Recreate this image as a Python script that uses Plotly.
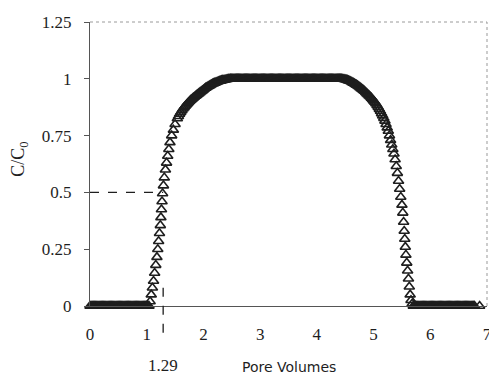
import numpy as np
import plotly.graph_objects as go

# ---- data ----
step = 0.02
# initial zero plateau 0 .. 1.04, full plateau 2.50 .. 4.44, final zeros 5.72 .. 6.78 (+ last point)
zero_head = (0.0, 1.04)
one_plateau = (2.50, 4.44)
zero_tail = (5.72, 6.78)
last_x, last_y = 6.87, 0.0

rise_x = [1.06, 1.08, 1.10, 1.12, 1.14, 1.16, 1.18, 1.195, 1.21, 1.225, 1.24, 1.25,
          1.26, 1.27, 1.28, 1.295, 1.31, 1.33, 1.35, 1.37, 1.39, 1.41, 1.44, 1.47,
          1.50, 1.54,
          1.56, 1.58, 1.60, 1.62, 1.64, 1.66, 1.68, 1.70, 1.72, 1.74, 1.76, 1.78,
          1.80, 1.82, 1.84, 1.86, 1.88, 1.90, 1.92, 1.94, 1.96, 1.98, 2.00, 2.02,
          2.04, 2.06, 2.08, 2.10, 2.12, 2.14, 2.16, 2.18, 2.20, 2.22, 2.24, 2.26,
          2.28, 2.30, 2.32, 2.34, 2.36, 2.38, 2.40, 2.42, 2.44, 2.46, 2.48]
rise_y = [0.02, 0.05, 0.08, 0.11, 0.145, 0.18, 0.215, 0.25, 0.285, 0.32, 0.355, 0.39,
          0.425, 0.46, 0.495, 0.53, 0.565, 0.60, 0.63, 0.66, 0.69, 0.72, 0.75, 0.775,
          0.80, 0.825,
          0.835, 0.845, 0.853, 0.861, 0.868, 0.874, 0.88, 0.886, 0.892, 0.897, 0.902, 0.907,
          0.911, 0.916, 0.92, 0.924, 0.928, 0.932, 0.936, 0.94, 0.944, 0.948, 0.952, 0.956,
          0.96, 0.963, 0.966, 0.969, 0.972, 0.975, 0.978, 0.98, 0.982, 0.984, 0.986, 0.988,
          0.99, 0.991, 0.993, 0.994, 0.995, 0.996, 0.997, 0.998, 0.999, 0.999, 1.0]

fall_x = [4.46, 4.48, 4.50, 4.52, 4.54, 4.56, 4.58, 4.60, 4.62, 4.64, 4.66, 4.68,
          4.70, 4.72, 4.74, 4.76, 4.78, 4.80, 4.82, 4.84, 4.86, 4.88, 4.90, 4.92,
          4.94, 4.96, 4.98, 5.00, 5.02, 5.04, 5.06, 5.08, 5.10, 5.12, 5.14, 5.16,
          5.18, 5.20,
          5.22, 5.24, 5.26, 5.28, 5.30, 5.32, 5.34, 5.36, 5.38, 5.40, 5.42, 5.44,
          5.46, 5.48, 5.50, 5.515, 5.53, 5.54, 5.55, 5.56, 5.57, 5.585, 5.60, 5.615,
          5.63, 5.645, 5.66, 5.68, 5.70]
fall_y = [0.999, 0.998, 0.997, 0.996, 0.994, 0.992, 0.99, 0.988, 0.985, 0.982, 0.979, 0.976,
          0.973, 0.97, 0.966, 0.962, 0.958, 0.954, 0.95, 0.946, 0.941, 0.936, 0.931, 0.926,
          0.921, 0.916, 0.91, 0.904, 0.898, 0.891, 0.884, 0.876, 0.867, 0.858, 0.848, 0.838,
          0.827, 0.815,
          0.80, 0.785, 0.77, 0.75, 0.73, 0.71, 0.69, 0.67, 0.645, 0.615, 0.585, 0.55,
          0.515, 0.48, 0.445, 0.41, 0.37, 0.33, 0.295, 0.26, 0.225, 0.19, 0.155, 0.12,
          0.085, 0.05, 0.025, 0.01, 0.0]

x_ticks = [0, 1, 2, 3, 4, 5, 6, 7]
y_ticks = [0, 0.25, 0.5, 0.75, 1, 1.25]
y_tick_labels = ["0", "0.25", "0.5", "0.75", "1", "1.25"]
pv_half = 1.29
c_half = 0.5


def flat(span, value):
    xx = np.round(np.arange(span[0], span[1] + 1e-9, step), 3)
    return list(xx), [value] * len(xx)


hx, hy = flat(zero_head, 0.0)
px_, py_ = flat(one_plateau, 1.0)
tx, ty = flat(zero_tail, 0.0)
xs = hx + rise_x + px_ + fall_x + tx + [last_x]
ys = hy + rise_y + py_ + fall_y + ty + [last_y]

serif = "Liberation Serif"
ink = "#1e1e1e"

fig = go.Figure()
fig.add_trace(go.Scatter(
    x=xs, y=ys, mode="markers",
    marker=dict(symbol="triangle-up-open", size=9, color=ink,
                line=dict(width=1.6, color=ink)),
    showlegend=False, cliponaxis=False))

# arrowhead under the axis
fig.add_trace(go.Scatter(
    x=[pv_half], y=[-0.135], mode="markers",
    marker=dict(symbol="triangle-down", size=7, color=ink),
    showlegend=False, cliponaxis=False))

yr = 1.25
shapes = [
    dict(type="line", xref="x", yref="y", x0=0, x1=pv_half, y0=c_half, y1=c_half,
         line=dict(color=ink, width=1.3, dash="dash")),
    dict(type="line", xref="x", yref="paper", x0=pv_half, x1=pv_half,
         y0=0.08 / yr, y1=-0.105, line=dict(color=ink, width=1.3, dash="dash")),
    dict(type="line", xref="paper", yref="paper", x0=0, x1=1, y0=1, y1=1,
         line=dict(color="#9a9a9a", width=1, dash="dot")),
    dict(type="line", xref="paper", yref="paper", x0=1, x1=1, y0=0, y1=1,
         line=dict(color="#999999", width=1, dash="dot")),
]

# sized so the page (with its 8px body margin) does not overflow the window
fig.update_layout(
    width=481, height=369,
    margin=dict(l=82, r=2, t=14, b=71),
    paper_bgcolor="white", plot_bgcolor="white",
    shapes=shapes,
    annotations=[
        dict(x=pv_half, y=-0.208, xref="x", yref="paper", text="1.29",
             xanchor="center", yanchor="middle",
             showarrow=False, font=dict(family=serif, size=17, color=ink)),
        dict(x=0.5, y=-0.214, xref="paper", yref="paper", text="Pore Volumes",
             xanchor="center", yanchor="middle",
             showarrow=False, font=dict(family="DejaVu Sans", size=14, color=ink)),
        dict(x=-0.176, y=0.515, xref="paper", yref="paper", text="C/C<sub>0</sub>",
             xanchor="center", yanchor="middle",
             textangle=-90, showarrow=False,
             font=dict(family=serif, size=18, color=ink)),
    ],
    xaxis=dict(range=[0, 7], tickvals=x_ticks, showgrid=False, zeroline=False,
               automargin=False, ticklabeloverflow="allow",
               showline=True, linecolor="#555", linewidth=1,
               ticks="", ticklabelstandoff=13,
               tickfont=dict(family=serif, size=17, color=ink)),
    yaxis=dict(range=[0, 1.25], tickvals=y_ticks, ticktext=y_tick_labels,
               showgrid=False, zeroline=False, automargin=False,
               showline=True, linecolor="#555", linewidth=1,
               ticks="outside", ticklen=5, tickcolor="#555",
               ticklabelstandoff=9,
               tickfont=dict(family=serif, size=17, color=ink)),
)

fig.write_html("out.html")
